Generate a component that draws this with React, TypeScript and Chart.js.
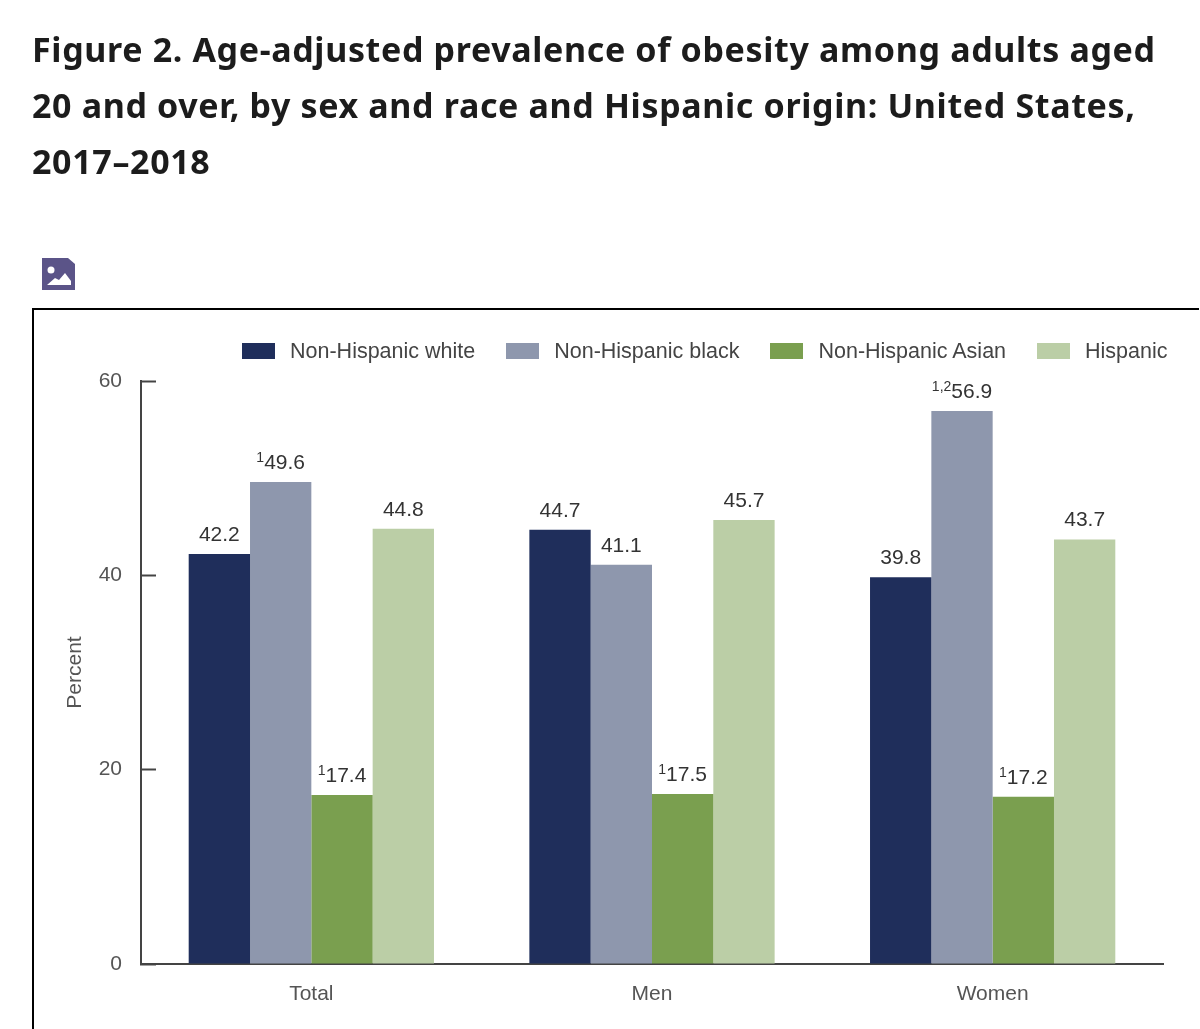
import { useEffect, useRef } from "react"
import { Chart, registerables } from "chart.js"

Chart.register(...registerables)

const titleLines = [
  "Figure 2. Age-adjusted prevalence of obesity among adults aged",
  "20 and over, by sex and race and Hispanic origin: United States,",
  "2017–2018",
]

const categories = ["Total", "Men", "Women"]
const seriesNames = ["Non-Hispanic white", "Non-Hispanic black", "Non-Hispanic Asian", "Hispanic"]
const seriesColors = ["#1f2e5b", "#8e97ad", "#7a9f4f", "#bbcea6"]

const whiteValues = [42.2, 44.7, 39.8]
const blackValues = [49.6, 41.1, 56.9]
const asianValues = [17.4, 17.5, 17.2]
const hispanicValues = [44.8, 45.7, 43.7]

// superscript footnote marks in front of the value labels
const whiteNotes = ["", "", ""]
const blackNotes = ["1", "", "1,2"]
const asianNotes = ["1", "1", "1"]
const hispanicNotes = ["", "", ""]

const allValues = [whiteValues, blackValues, asianValues, hispanicValues]
const allNotes = [whiteNotes, blackNotes, asianNotes, hispanicNotes]

const labelFont = "Liberation Sans"

const valueLabels = {
  id: "valueLabels",
  afterDatasetsDraw(chart) {
    const ctx = chart.ctx
    ctx.save()
    ctx.fillStyle = "#333"
    ctx.textBaseline = "alphabetic"
    ctx.textAlign = "left"
    chart.data.datasets.forEach((ds, i) => {
      chart.getDatasetMeta(i).data.forEach((bar, j) => {
        const text = ds.data[j].toFixed(1)
        const note = allNotes[i][j]
        ctx.font = `14px "${labelFont}"`
        const noteWidth = ctx.measureText(note).width
        ctx.font = `21px "${labelFont}"`
        const textWidth = ctx.measureText(text).width
        const left = bar.x - (noteWidth + textWidth) / 2
        const baseline = bar.y - 13
        ctx.fillText(text, left + noteWidth, baseline)
        if (note) {
          ctx.font = `14px "${labelFont}"`
          ctx.fillText(note, left, baseline - 7)
        }
      })
    })
    ctx.restore()
  },
}

export default function App() {
  const canvasRef = useRef(null)

  useEffect(() => {
    const chart = new Chart(canvasRef.current, {
      type: "bar",
      data: {
        labels: categories,
        datasets: seriesNames.map((name, i) => ({
          label: name,
          data: allValues[i],
          backgroundColor: seriesColors[i],
          borderWidth: 0,
          barPercentage: 1,
          categoryPercentage: 0.72,
        })),
      },
      options: {
        responsive: false,
        animation: false,
        layout: { padding: { top: 381, right: 37, left: 0, bottom: 0 } },
        plugins: {
          legend: { display: false },
          tooltip: { enabled: false },
        },
        scales: {
          x: {
            afterFit: (scale) => {
              scale.height = 65
            },
            grid: { display: false },
            border: { color: "#444", width: 2 },
            ticks: {
              color: "#555",
              padding: 10,
              font: { family: labelFont, size: 21 },
            },
          },
          y: {
            min: 0,
            max: 60,
            afterFit: (scale) => {
              scale.width = 141
            },
            border: { color: "#444", width: 2 },
            grid: { drawOnChartArea: false, tickLength: -15, tickColor: "#444", tickWidth: 2 },
            ticks: {
              stepSize: 20,
              color: "#555",
              padding: 34,
              font: { family: labelFont, size: 21 },
            },
            title: {
              display: true,
              text: "Percent",
              color: "#555",
              padding: { top: 63, bottom: 0 },
              font: { family: labelFont, size: 21 },
            },
          },
        },
      },
      plugins: [valueLabels],
    })
    return () => chart.destroy()
  }, [])

  return (
    <div style={{ position: "absolute", left: 0, top: 0, width: 1200, height: 1029, overflow: "hidden", background: "#fff" }}>
      <canvas ref={canvasRef} width={1200} height={1029} style={{ position: "absolute", left: 0, top: 0 }} />

      <div style={{ position: "absolute", left: 32, top: 21, fontFamily: "Noto Sans", fontWeight: 700, fontSize: 34, letterSpacing: 0.65, lineHeight: "56px", color: "#1c1c1c", whiteSpace: "nowrap" }}>
        {titleLines.map((line) => (
          <div key={line}>{line}</div>
        ))}
      </div>

      <svg width={33} height={32} viewBox="0 0 33 32" style={{ position: "absolute", left: 42, top: 258 }}>
        <path d="M0 0H26L33 6V32H0Z" fill="#5b5488" />
        <circle cx={9} cy={12} r={3.5} fill="#fff" />
        <path d="M5 27L13 20L17 22L23 15L29 23V27Z" fill="#fff" />
      </svg>

      <div style={{ position: "absolute", left: 32, top: 308, width: 1165, height: 800, borderTop: "2px solid #000", borderLeft: "2px solid #000" }} />

      <div style={{ position: "absolute", left: 242, top: 338, display: "flex", alignItems: "center", height: 26, fontFamily: labelFont, fontSize: 21.5, color: "#444", whiteSpace: "nowrap" }}>
        {seriesNames.map((name, i) => (
          <div key={name} style={{ display: "flex", alignItems: "center", marginRight: 31 }}>
            <span style={{ width: 33, height: 16, marginRight: 15, background: seriesColors[i] }} />
            <span>{name}</span>
          </div>
        ))}
      </div>
    </div>
  )
}
